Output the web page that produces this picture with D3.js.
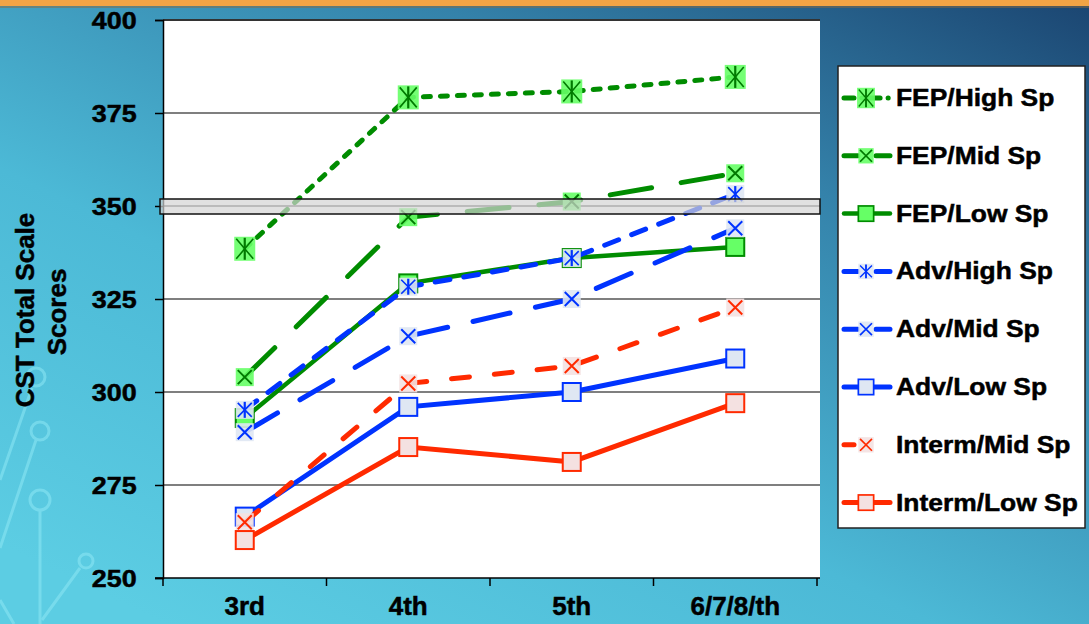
<!DOCTYPE html>
<html>
<head>
<meta charset="utf-8">
<script src="https://cdnjs.cloudflare.com/ajax/libs/d3/7.8.5/d3.min.js"></script>
<style>
  html, body { margin: 0; padding: 0; overflow: hidden; }
  text { font-family: "Liberation Sans", Arial, sans-serif; font-weight: bold; fill: #000; stroke: #000; stroke-width: 0.5px; }
</style>
</head>
<body>
<div class="chart"></div>
<script>
var w = 1089;
var h = 624;
var margin = {top: 20, right: 272, bottom: 46, left: 163};

// data
var grades = ["3rd", "4th", "5th", "6/7/8/th"];
var yTicks = [250, 275, 300, 325, 350, 375, 400];
var seriesNames = ["FEP/High Sp", "FEP/Mid Sp", "FEP/Low Sp", "Adv/High Sp", "Adv/Mid Sp", "Adv/Low Sp", "Interm/Mid Sp", "Interm/Low Sp"];
var fepHigh = [338.5, 379.2, 380.8, 384.7];
var fepMid = [304, 347, 351.2, 358.8];
var fepLow = [293, 329.2, 336, 339];
var advHigh = [295.2, 328.3, 336, 353.2];
var advMid = [289.2, 315, 325, 344];
var advLow = [266.5, 296, 300, 309];
var intMid = [265, 302.3, 307, 322.7];
var intLow = [260.2, 285.2, 281.2, 297];
var benchmark = 350;

var green = "#008c00", blue = "#0033ff", red = "#ff2a00";
var styles = [
  {color: green, fill: "#66ff66", mark: "star", dash: "7,10", width: 5, size: 21},
  {color: green, fill: "#66ff66", mark: "x", dash: "42,30", width: 5, size: 18},
  {color: green, fill: "#66ff66", mark: "square", dash: null, width: 4.5, size: 18},
  {color: blue, fill: "#dfe7f3", mark: "star", dash: "15,14", width: 5, size: 18},
  {color: blue, fill: "#dfe7f3", mark: "x", dash: "38,26", width: 5, size: 18},
  {color: blue, fill: "#dfe7f3", mark: "square", dash: null, width: 5, size: 18},
  {color: red, fill: "#f4e1e1", mark: "x", dash: "18,25", width: 5, size: 18},
  {color: red, fill: "#f4e1e1", mark: "square", dash: null, width: 5, size: 18}
];
var series = [fepHigh, fepMid, fepLow, advHigh, advMid, advLow, intMid, intLow].map(function (v, i) {
  return {name: seriesNames[i], values: v, style: styles[i]};
});

var svg = d3.select(".chart")
            .append("svg")
            .attr("width", w)
            .attr("height", h);

// background
var defs = svg.append("defs");
var bg = defs.append("linearGradient")
    .attr("id", "bg")
    .attr("x1", "1").attr("y1", "0")
    .attr("x2", "0.15").attr("y2", "1");
bg.append("stop").attr("offset", "0").attr("stop-color", "#1b4571");
bg.append("stop").attr("offset", "0.3").attr("stop-color", "#3482aa");
bg.append("stop").attr("offset", "0.65").attr("stop-color", "#4cb9d6");
bg.append("stop").attr("offset", "1").attr("stop-color", "#5ccde3");

svg.append("rect").attr("width", w).attr("height", h).attr("fill", "url(#bg)");
svg.append("rect").attr("width", w).attr("height", 6).attr("fill", "#f3a445");
svg.append("rect").attr("y", 6).attr("width", w).attr("height", 2).attr("fill", "#8a6a40").attr("opacity", 0.5);

// circuit decoration
var deco = svg.append("g")
   .attr("fill", "none")
   .attr("stroke", "#8ee8f5")
   .attr("stroke-width", 3)
   .attr("opacity", 0.55);
deco.append("path").attr("d", "M0,548 L36,440");
deco.append("circle").attr("cx", 40).attr("cy", 431).attr("r", 9);
deco.append("path").attr("d", "M40,624 L40,510");
deco.append("circle").attr("cx", 40).attr("cy", 500).attr("r", 10);
deco.append("path").attr("d", "M42,620 L80,568");
deco.append("circle").attr("cx", 86).attr("cy", 561).attr("r", 7);
deco.append("path").attr("d", "M0,480 L32,388");
deco.append("circle").attr("cx", 36).attr("cy", 377).attr("r", 9);
deco.append("path").attr("d", "M14,624 L0,600");

// scales
var xScale = d3.scalePoint()
    .domain(grades)
    .range([margin.left, w - margin.right])
    .padding(0.5);

var yScale = d3.scaleLinear()
    .domain([250, 400])
    .range([h - margin.bottom, margin.top]);

var plotRight = w - margin.right + 3;

// plot area
svg.append("rect")
   .attr("x", margin.left)
   .attr("y", margin.top)
   .attr("width", plotRight - margin.left)
   .attr("height", yScale(250) - yScale(400))
   .attr("fill", "#fff");

// gridlines
svg.selectAll(".grid")
   .data(yTicks.slice(1))
   .enter()
   .append("line")
   .attr("class", "grid")
   .attr("x1", margin.left)
   .attr("x2", plotRight)
   .attr("y1", (d) => yScale(d))
   .attr("y2", (d) => yScale(d))
   .attr("stroke", (d) => d == 400 ? "#333" : "#555")
   .attr("stroke-width", (d) => d == 400 ? 2 : 1.5);

// axes
var yAxis = svg.append("g")
   .attr("transform", "translate(" + margin.left + ",0)")
   .call(d3.axisLeft(yScale).tickValues(yTicks).tickSize(8).tickPadding(15.5));
yAxis.selectAll("path, line").attr("stroke", "#000").attr("stroke-width", 1.5);
yAxis.selectAll("text")
   .attr("font-size", 24)
   .attr("font-family", "Liberation Sans, Arial, sans-serif")
   .attr("font-weight", "bold")
   .attr("dy", "0.36em")
   .attr("transform", "scale(1.12,1)");

var band = (w - margin.right - margin.left) / grades.length;
var xAxis = svg.append("g")
   .attr("transform", "translate(0," + yScale(250) + ")");
xAxis.append("line")
   .attr("x1", margin.left - 8).attr("x2", plotRight)
   .attr("stroke", "#000").attr("stroke-width", 1.5);
xAxis.selectAll(".xtick")
   .data(d3.range(grades.length + 1))
   .enter()
   .append("line")
   .attr("x1", (d) => margin.left + d * band)
   .attr("x2", (d) => margin.left + d * band)
   .attr("y2", 8)
   .attr("stroke", "#000").attr("stroke-width", 1.5);
xAxis.selectAll(".xlabel")
   .data(grades)
   .enter()
   .append("text")
   .attr("x", (d) => xScale(d))
   .attr("y", 37)
   .attr("text-anchor", "middle")
   .attr("font-size", 26)
   .text((d) => d);

// y title
svg.append("text")
   .attr("transform", "translate(34,310) rotate(-90)")
   .attr("text-anchor", "middle")
   .attr("font-size", 26)
   .text("CST Total Scale");
svg.append("text")
   .attr("transform", "translate(66,312) rotate(-90)")
   .attr("text-anchor", "middle")
   .attr("font-size", 26)
   .text("Scores");

// markers
function drawMarker(g, s) {
  var r = s.size / 2;
  var rh = s.mark == "star" && s.color == green ? r + 1.5 : r;
  g.append("rect")
   .attr("x", -r).attr("y", -rh)
   .attr("width", 2 * r).attr("height", 2 * rh)
   .attr("fill", s.fill)
   .attr("stroke", s.mark == "square" ? s.color : "none")
   .attr("stroke-width", 2)
   .attr("opacity", s.mark == "square" ? 1 : 0.9);
  var mc = s.color == green ? "#007a00" : s.color;
  if (s.mark == "x" || s.mark == "star") {
    g.append("path")
     .attr("d", "M" + (-r + 2) + "," + (-rh + 2) + "L" + (r - 2) + "," + (rh - 2) +
                "M" + (-r + 2) + "," + (rh - 2) + "L" + (r - 2) + "," + (-rh + 2))
     .attr("stroke", mc)
     .attr("stroke-width", s.mark == "x" ? 2 : 1.6)
     .attr("fill", "none");
  }
  if (s.mark == "star") {
    g.append("path")
     .attr("d", "M0," + (-rh + 1) + "L0," + (rh - 1))
     .attr("stroke", mc)
     .attr("stroke-width", 2.2)
     .attr("fill", "none");
  }
}

var line = d3.line()
    .x((d, i) => xScale(grades[i]))
    .y((d) => yScale(d));

var plots = svg.selectAll(".series")
   .data(series)
   .enter()
   .append("g")
   .attr("class", "series");

plots.append("path")
   .attr("d", (d) => line(d.values))
   .attr("fill", "none")
   .attr("stroke", (d) => d.style.color)
   .attr("stroke-width", (d) => d.style.width)
   .attr("stroke-dasharray", (d) => d.style.dash)
   .attr("stroke-linecap", (d) => d.style.dash ? "round" : "butt");

plots.each(function (d) {
  var g = d3.select(this);
  d.values.forEach(function (v, i) {
    var m = g.append("g").attr("transform", "translate(" + xScale(grades[i]) + "," + yScale(v) + ")");
    drawMarker(m, d.style);
  });
});

// benchmark band
svg.append("rect")
   .attr("x", margin.left - 3)
   .attr("y", yScale(benchmark) - 7)
   .attr("width", plotRight - margin.left + 3)
   .attr("height", 15)
   .attr("fill", "#d4d4d4")
   .attr("fill-opacity", 0.7)
   .attr("stroke", "#111")
   .attr("stroke-width", 1.5);

// legend
var lg = svg.append("g").attr("transform", "translate(838,66)");
lg.append("rect")
   .attr("width", 247)
   .attr("height", 462)
   .attr("fill", "#fff")
   .attr("stroke", "#222")
   .attr("stroke-width", 1.5);

var rows = lg.selectAll(".row")
   .data(series)
   .enter()
   .append("g")
   .attr("class", "row")
   .attr("transform", (d, i) => "translate(0," + (32 + i * 57.8) + ")");

rows.append("line")
   .attr("x1", 6).attr("x2", 52)
   .attr("stroke", (d) => d.style.color)
   .attr("stroke-width", (d) => d.style.width)
   .attr("stroke-linecap", "round")
   .attr("stroke-dasharray", (d) => d.style.dash ? (d.style.mark == "star" && d.style.color == green ? "10,8,0.1,8" : (d.name == "Interm/Mid Sp" ? "10,40" : "14,18")) : null);

rows.each(function (d) {
  var m = d3.select(this).append("g").attr("transform", "translate(28,0) scale(0.85)");
  drawMarker(m, d.style);
});

rows.append("text")
   .attr("x", 0)
   .attr("y", 0)
   .attr("transform", "translate(58,8) scale(1.1,1)")
   .attr("font-size", 24)
   .text((d) => d.name);
</script>
</body>
</html>
